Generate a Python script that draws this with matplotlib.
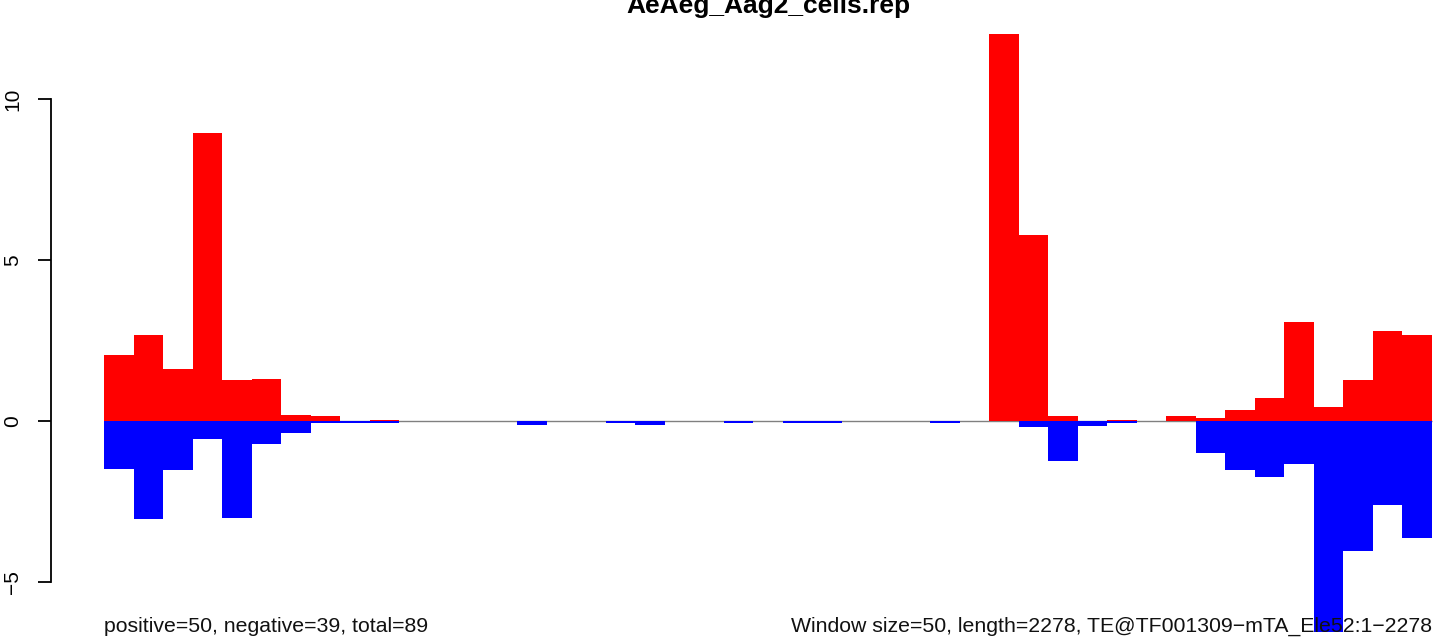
import matplotlib
matplotlib.use('Agg')
import matplotlib.pyplot as plt
import numpy as np

plt.rcParams['font.family'] = ['Liberation Sans', 'DejaVu Sans']

title = "AeAeg_Aag2_cells.rep"
left_note = "positive=50, negative=39, total=89"
right_note = "Window size=50, length=2278, TE@TF001309\u2212mTA_Ele52:1\u22122278"

# per-window signal, 45 windows of 50 bp
pos = [2.05, 2.67, 1.61, 8.94, 1.27, 1.30, 0.19, 0.15, 0.0, 0.04,
       0, 0, 0, 0, 0, 0, 0, 0, 0, 0,
       0, 0, 0, 0, 0, 0, 0, 0, 0, 0,
       12.0, 5.78, 0.15, 0.0, 0.04, 0.0, 0.15, 0.09, 0.34, 0.71,
       3.07, 0.43, 1.27, 2.80, 2.67]
neg = [-1.49, -3.04, -1.51, -0.56, -3.01, -0.71, -0.37, -0.06, -0.06, -0.06,
       0, 0, 0, 0, -0.12, 0, 0, -0.06, -0.12, 0,
       0, -0.06, 0, -0.06, -0.06, 0, 0, 0, -0.06, 0,
       0, -0.20, -1.23, -0.16, -0.06, 0, 0, -0.99, -1.52, -1.73,
       -1.33, -6.57, -4.04, -2.61, -3.63]
yticks = [-5, 0, 5, 10]

n = len(pos)
x = np.arange(n)

fig = plt.figure(figsize=(14.41, 6.37), dpi=100)
ax = fig.add_axes([51 / 1441, 0, 1 - 51 / 1441, 1])

# zero line under the bars
ax.hlines(0, 0, n, color='#808080', lw=1, zorder=1)
ax.bar(x, pos, width=1.0, align='edge', color='#ff0000', lw=0, zorder=2)
ax.bar(x, neg, width=1.0, align='edge', color='#0000ff', lw=0, zorder=2)

ax.set_xlim(-1.796, 45.31)
ax.set_ylim(-6.71, 13.07)

for s in ['top', 'right', 'bottom']:
    ax.spines[s].set_visible(False)
ax.spines['left'].set_bounds(-5, 10)
ax.spines['left'].set_linewidth(1.3)
ax.set_xticks([])
ax.set_yticks(yticks)
ax.set_yticklabels([str(t).replace('-', '\u2212') for t in yticks],
                   rotation=90, va='center', fontsize=15)
ax.tick_params(axis='y', length=9.4, width=1.3, pad=11.5)
ax.patch.set_alpha(0)

ax.text(n / 2, 1 - 13 / 637, title, transform=ax.get_xaxis_transform(),
        ha='center', va='baseline', fontsize=19, fontweight='bold')
ax.text(0, 5 / 637, left_note, transform=ax.get_xaxis_transform(),
        ha='left', va='baseline', fontsize=15.3, color='#111111', zorder=3)
ax.text(n, 5 / 637, right_note, transform=ax.get_xaxis_transform(),
        ha='right', va='baseline', fontsize=15.3, color='#111111', zorder=3)

fig.savefig('out.png', dpi=100)
